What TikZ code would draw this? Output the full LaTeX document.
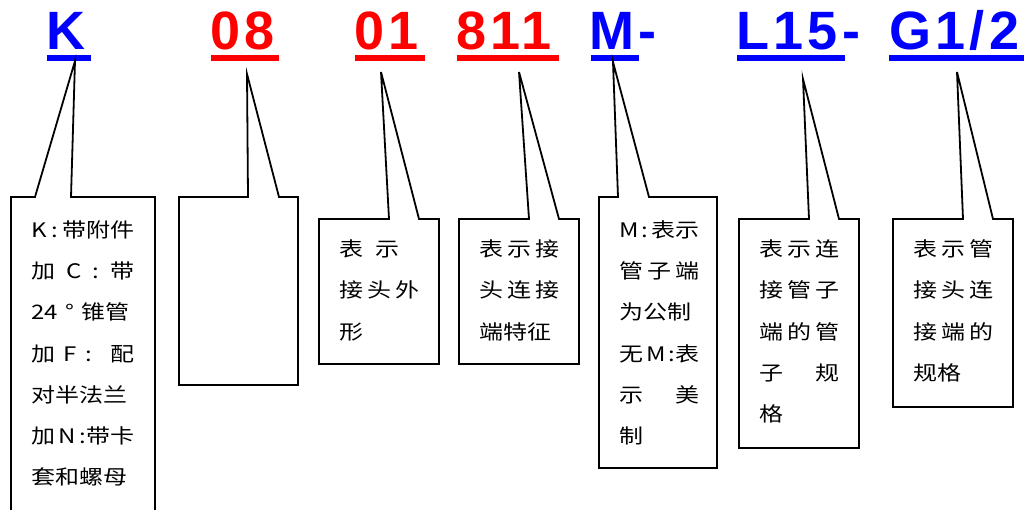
\documentclass[tikz,border=0pt]{standalone}
\usepackage{fontspec}
\setmainfont{Liberation Sans}
\newfontfamily\cjk[FakeStretch=1.2]{Noto Sans CJK SC}
\newfontfamily\lblfont[LetterSpace=8]{Liberation Sans}
\definecolor{cblue}{RGB}{0,0,255}
\definecolor{cred}{RGB}{255,0,0}
\newcommand\jl[2]{\makebox[#1pt][s]{#2}}
\newcommand\hf{\hfill{}}
\begin{document}
\begin{tikzpicture}[x=1pt,y=-1pt,
  lbl/.style={anchor=base west, inner sep=0pt, font=\fontsize{54}{54}\lblfont\bfseries},
  txt/.style={anchor=base west, inner sep=0pt, font=\fontsize{20}{20}\cjk},
  callout/.style={draw=black, line width=1.8pt, line join=miter},
  uline/.style={fill=#1, draw=none}]
\useasboundingbox (0,0) rectangle (1024,509);
\clip (0,0) rectangle (1024,509);

% ---- top labels ----
\node[lbl, text=cblue] (lK) at (46,49) {K};
\node[lbl, text=cred] (l08) at (210,49) {08};
\node[lbl, text=cred] (l01) at (354,49) {01};
\node[lbl, text=cred] (l811) at (456,49) {811};
\node[lbl, text=cblue] (lM) at (589,49) {M-};
\node[lbl, text=cblue] (lL) at (736,49) {L15-};
\node[lbl, text=cblue] (lG) at (889,49) {G1/2};

\fill[uline=cblue] (47,55) rectangle (91,61);
\fill[uline=cred] (211,55) rectangle (279,61);
\fill[uline=cred] (355,55) rectangle (425,61);
\fill[uline=cred] (457,55) rectangle (559,61);
\fill[uline=cblue] (591,55) rectangle (639,61);
\fill[uline=cblue] (737,55) rectangle (845,61);
\fill[uline=cblue] (889,55) rectangle (1030,61);

% ---- callout tips ----
\coordinate (tK) at (75,61);
\coordinate (t08) at (247,74);
\coordinate (t01) at (381,72);
\coordinate (t811) at (519,72);
\coordinate (tM) at (613,62);
\coordinate (tL) at (803,79);
\coordinate (tG) at (957,72);

% ---- callout boxes ----
\draw[callout] (11,197) -- (35,197) -- (tK) -- (71,197) -- (155,197) -- (155,530) -- (11,530) -- cycle;
\draw[callout] (179,197) -- (248,197) -- (t08) -- (279,197) -- (298,197) -- (298,385) -- (179,385) -- cycle;
\draw[callout] (319,219) -- (389,219) -- (t01) -- (419,219) -- (439,219) -- (439,364) -- (319,364) -- cycle;
\draw[callout] (459,219) -- (529,219) -- (t811) -- (559,219) -- (579,219) -- (579,364) -- (459,364) -- cycle;
\draw[callout] (599,197) -- (618,197) -- (tM) -- (649,197) -- (717,197) -- (717,468) -- (599,468) -- cycle;
\draw[callout] (739,219) -- (809,219) -- (tL) -- (839,219) -- (859,219) -- (859,448) -- (739,448) -- cycle;
\draw[callout] (893,219) -- (963,219) -- (tG) -- (993,219) -- (1013,219) -- (1013,407) -- (893,407) -- cycle;

% ---- box 1 text ----
\node[txt] (k1) at (31,237.5) {\jl{103}{K\hf:\hf 带附件}};
\node[txt] (k2) at (31,278.7) {\jl{103}{加\hf C\hf:\hf 带}};
\node[txt] (k3) at (31,319.9) {\jl{98}{24\hf°\hf 锥管}};
\node[txt] (k4) at (31,361.1) {\jl{103}{加\hf F\hf:\hf\hf 配}};
\node[txt] (k5) at (31,402.3) {对半法兰};
\node[txt] (k6) at (31,443.5) {\jl{103}{加\hf N\hf:带卡}};
\node[txt] (k7) at (31,484.7) {套和螺母};

% ---- box 3 text ----
\node[txt] (a1) at (339,256.5) {\jl{60}{表\hf 示}};
\node[txt] (a2) at (339,297.5) {\jl{80}{接\hf 头\hf 外}};
\node[txt] (a3) at (339,339) {形};

% ---- box 4 text ----
\node[txt] (b1) at (479,256.5) {\jl{80}{表\hf 示\hf 接}};
\node[txt] (b2) at (479,297.5) {\jl{80}{头\hf 连\hf 接}};
\node[txt] (b3) at (479,339) {端特征};

% ---- box 5 text ----
\node[txt] (m1) at (619,237.5) {\jl{80}{M\hf:\hf 表示}};
\node[txt] (m2) at (619,278.7) {\jl{80}{管\hf 子\hf 端}};
\node[txt] (m3) at (619,319.9) {为公制};
\node[txt] (m4) at (619,361.1) {\jl{80}{无\hf M\hf:表}};
\node[txt] (m5) at (619,402.3) {\jl{80}{示\hf 美}};
\node[txt] (m6) at (619,443.5) {制};

% ---- box 6 text ----
\node[txt] (c1) at (759,256.5) {\jl{80}{表\hf 示\hf 连}};
\node[txt] (c2) at (759,297.5) {\jl{80}{接\hf 管\hf 子}};
\node[txt] (c3) at (759,339) {\jl{80}{端\hf 的\hf 管}};
\node[txt] (c4) at (759,380) {\jl{80}{子\hf 规}};
\node[txt] (c5) at (759,421) {格};

% ---- box 7 text ----
\node[txt] (g1) at (913,256.5) {\jl{80}{表\hf 示\hf 管}};
\node[txt] (g2) at (913,297.5) {\jl{80}{接\hf 头\hf 连}};
\node[txt] (g3) at (913,339) {\jl{80}{接\hf 端\hf 的}};
\node[txt] (g4) at (913,380) {规格};
\end{tikzpicture}
\end{document}
